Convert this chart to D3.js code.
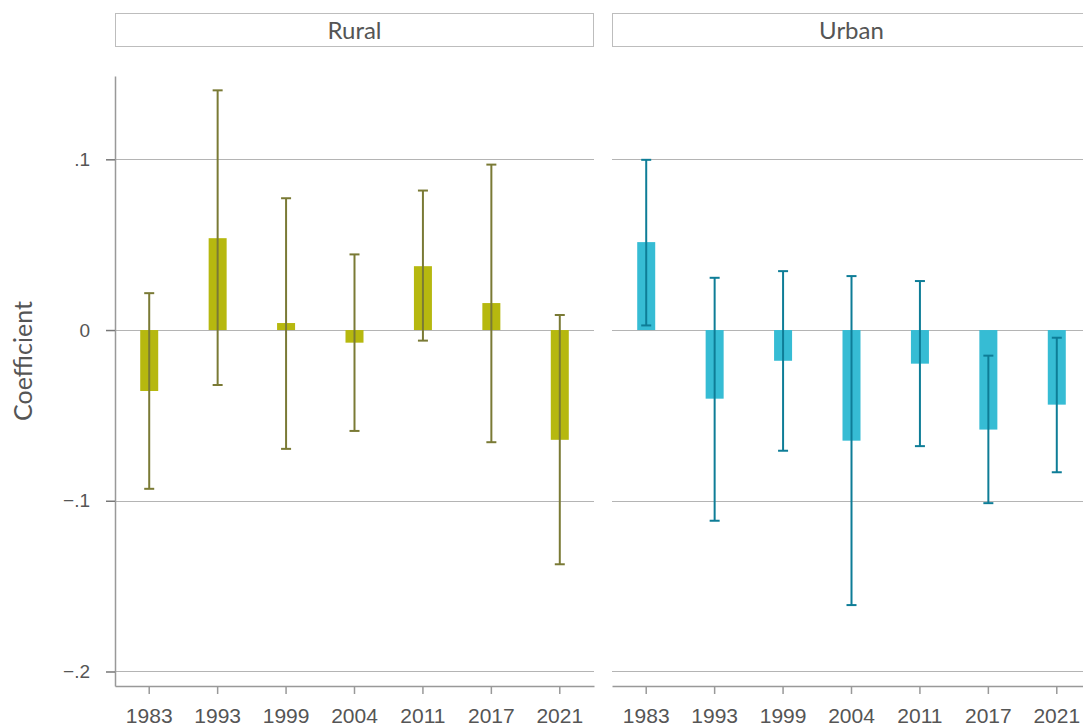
<!DOCTYPE html>
<html>
<head>
<meta charset="utf-8">
<script src="https://cdn.jsdelivr.net/npm/d3@7"></script>
<style>
  html, body { margin: 0; padding: 0; background: #fff; }
  svg { display: block; font-family: "Lato", "Noto Sans", sans-serif; font-variant-numeric: oldstyle-nums; font-feature-settings: "onum" 1; }
</style>
</head>
<body>
<svg id="chart" width="1083" height="727"></svg>
<script>
// Survey years on the x axis
const years = ["1983", "1993", "1999", "2004", "2011", "2017", "2021"];
const panels = ["Rural", "Urban"];

// Point estimates and 95% confidence bounds, rural
const ruralCoef  = [-0.0357, 0.0538, 0.0041, -0.0074, 0.0374, 0.0158, -0.0643];
const ruralLow   = [-0.0930, -0.0322, -0.0696, -0.0591, -0.0062, -0.0657, -0.1372];
const ruralHigh  = [0.0216, 0.1404, 0.0772, 0.0443, 0.0817, 0.0969, 0.0088];

// Point estimates and 95% confidence bounds, urban
const urbanCoef  = [0.0515, -0.0402, -0.0180, -0.0648, -0.0197, -0.0583, -0.0437];
const urbanLow   = [0.0027, -0.1117, -0.0707, -0.1611, -0.0680, -0.1014, -0.0833];
const urbanHigh  = [0.0997, 0.0306, 0.0345, 0.0316, 0.0287, -0.0150, -0.0045];

// Y axis ticks
const yTicks = [0.1, 0, -0.1, -0.2];
const yTickLabels = [".1", "0", "\u2212.1", "\u2212.2"];

const series = [
  { name: panels[0], coef: ruralCoef, low: ruralLow, high: ruralHigh, fill: "#b6b80f", line: "#7a7a35" },
  { name: panels[1], coef: urbanCoef, low: urbanLow, high: urbanHigh, fill: "#36bcd4", line: "#0e7d97" }
];

const svg = d3.select("#chart");
const panelW = 479, panelGap = 18, left0 = 115;
const plotTop = 76, plotBottom = 686;

const y = d3.scaleLinear().domain([-0.2085, 0.1488]).range([plotBottom, plotTop]);

series.forEach((s, i) => {
  const x0 = left0 + i * (panelW + panelGap);
  const g = svg.append("g").attr("transform", `translate(${x0},0)`);
  const x = d3.scaleBand().domain(years).range([0, panelW]).padding(0);
  const barW = 18, capW = 10;

  // Strip header
  g.append("rect").attr("x", 0.5).attr("y", 13.5).attr("width", panelW - 1).attr("height", 33)
    .attr("fill", "#fff").attr("stroke", "#bdbdbd").attr("stroke-width", 1);
  g.append("text").attr("x", panelW / 2).attr("y", 39).attr("text-anchor", "middle")
    .attr("font-size", 24).attr("fill", "#555").text(s.name);

  // Horizontal gridlines
  g.selectAll("line.grid").data(yTicks).join("line").attr("class", "grid")
    .attr("x1", 0).attr("x2", panelW)
    .attr("y1", d => Math.round(y(d)) + 0.5).attr("y2", d => Math.round(y(d)) + 0.5)
    .attr("stroke", "#b4b4b4").attr("stroke-width", 1);

  // Bars
  g.selectAll("rect.bar").data(s.coef).join("rect").attr("class", "bar")
    .attr("x", (d, j) => x(years[j]) + x.bandwidth() / 2 - barW / 2)
    .attr("width", barW)
    .attr("y", d => y(Math.max(0, d)))
    .attr("height", d => Math.abs(y(d) - y(0)))
    .attr("fill", s.fill);

  // Confidence intervals
  const ci = g.selectAll("g.ci").data(years).join("g").attr("class", "ci")
    .attr("transform", d => `translate(${x(d) + x.bandwidth() / 2},0)`);
  ci.append("line").attr("x1", 0).attr("x2", 0)
    .attr("y1", (d, j) => y(s.high[j])).attr("y2", (d, j) => y(s.low[j]))
    .attr("stroke", s.line).attr("stroke-width", 2);
  ci.append("line").attr("x1", -capW / 2).attr("x2", capW / 2)
    .attr("y1", (d, j) => y(s.high[j])).attr("y2", (d, j) => y(s.high[j]))
    .attr("stroke", s.line).attr("stroke-width", 2);
  ci.append("line").attr("x1", -capW / 2).attr("x2", capW / 2)
    .attr("y1", (d, j) => y(s.low[j])).attr("y2", (d, j) => y(s.low[j]))
    .attr("stroke", s.line).attr("stroke-width", 2);

  // X axis
  const xAxis = g.append("g").attr("transform", `translate(0,${plotBottom})`)
    .call(d3.axisBottom(x).tickSize(8).tickSizeOuter(0).tickPadding(14));
  xAxis.select(".domain").attr("stroke", "#999").attr("stroke-width", 1.5);
  xAxis.selectAll(".tick line").attr("stroke", "#999").attr("stroke-width", 1.5);
  xAxis.selectAll(".tick text").attr("font-size", 21).attr("fill", "#555")
    .attr("font-family", "inherit");

  // Y axis on the first panel only
  if (i === 0) {
    const yAxis = g.append("g")
      .call(d3.axisLeft(y).tickValues(yTicks).tickSize(9).tickSizeOuter(0).tickPadding(16)
        .tickFormat((d, k) => yTickLabels[k]));
    yAxis.select(".domain").attr("stroke", "#999").attr("stroke-width", 1.5);
    yAxis.selectAll(".tick line").attr("stroke", "#777").attr("stroke-width", 1.5);
    yAxis.selectAll(".tick text").attr("font-size", 19).attr("fill", "#555")
      .attr("font-family", "inherit");
  }
});

// Y axis title
svg.append("text")
  .attr("transform", `translate(32,${(plotTop + plotBottom) / 2 - 20}) rotate(-90)`)
  .attr("text-anchor", "middle").attr("font-size", 25).attr("fill", "#555")
  .text("Coefficient");
</script>
</body>
</html>
